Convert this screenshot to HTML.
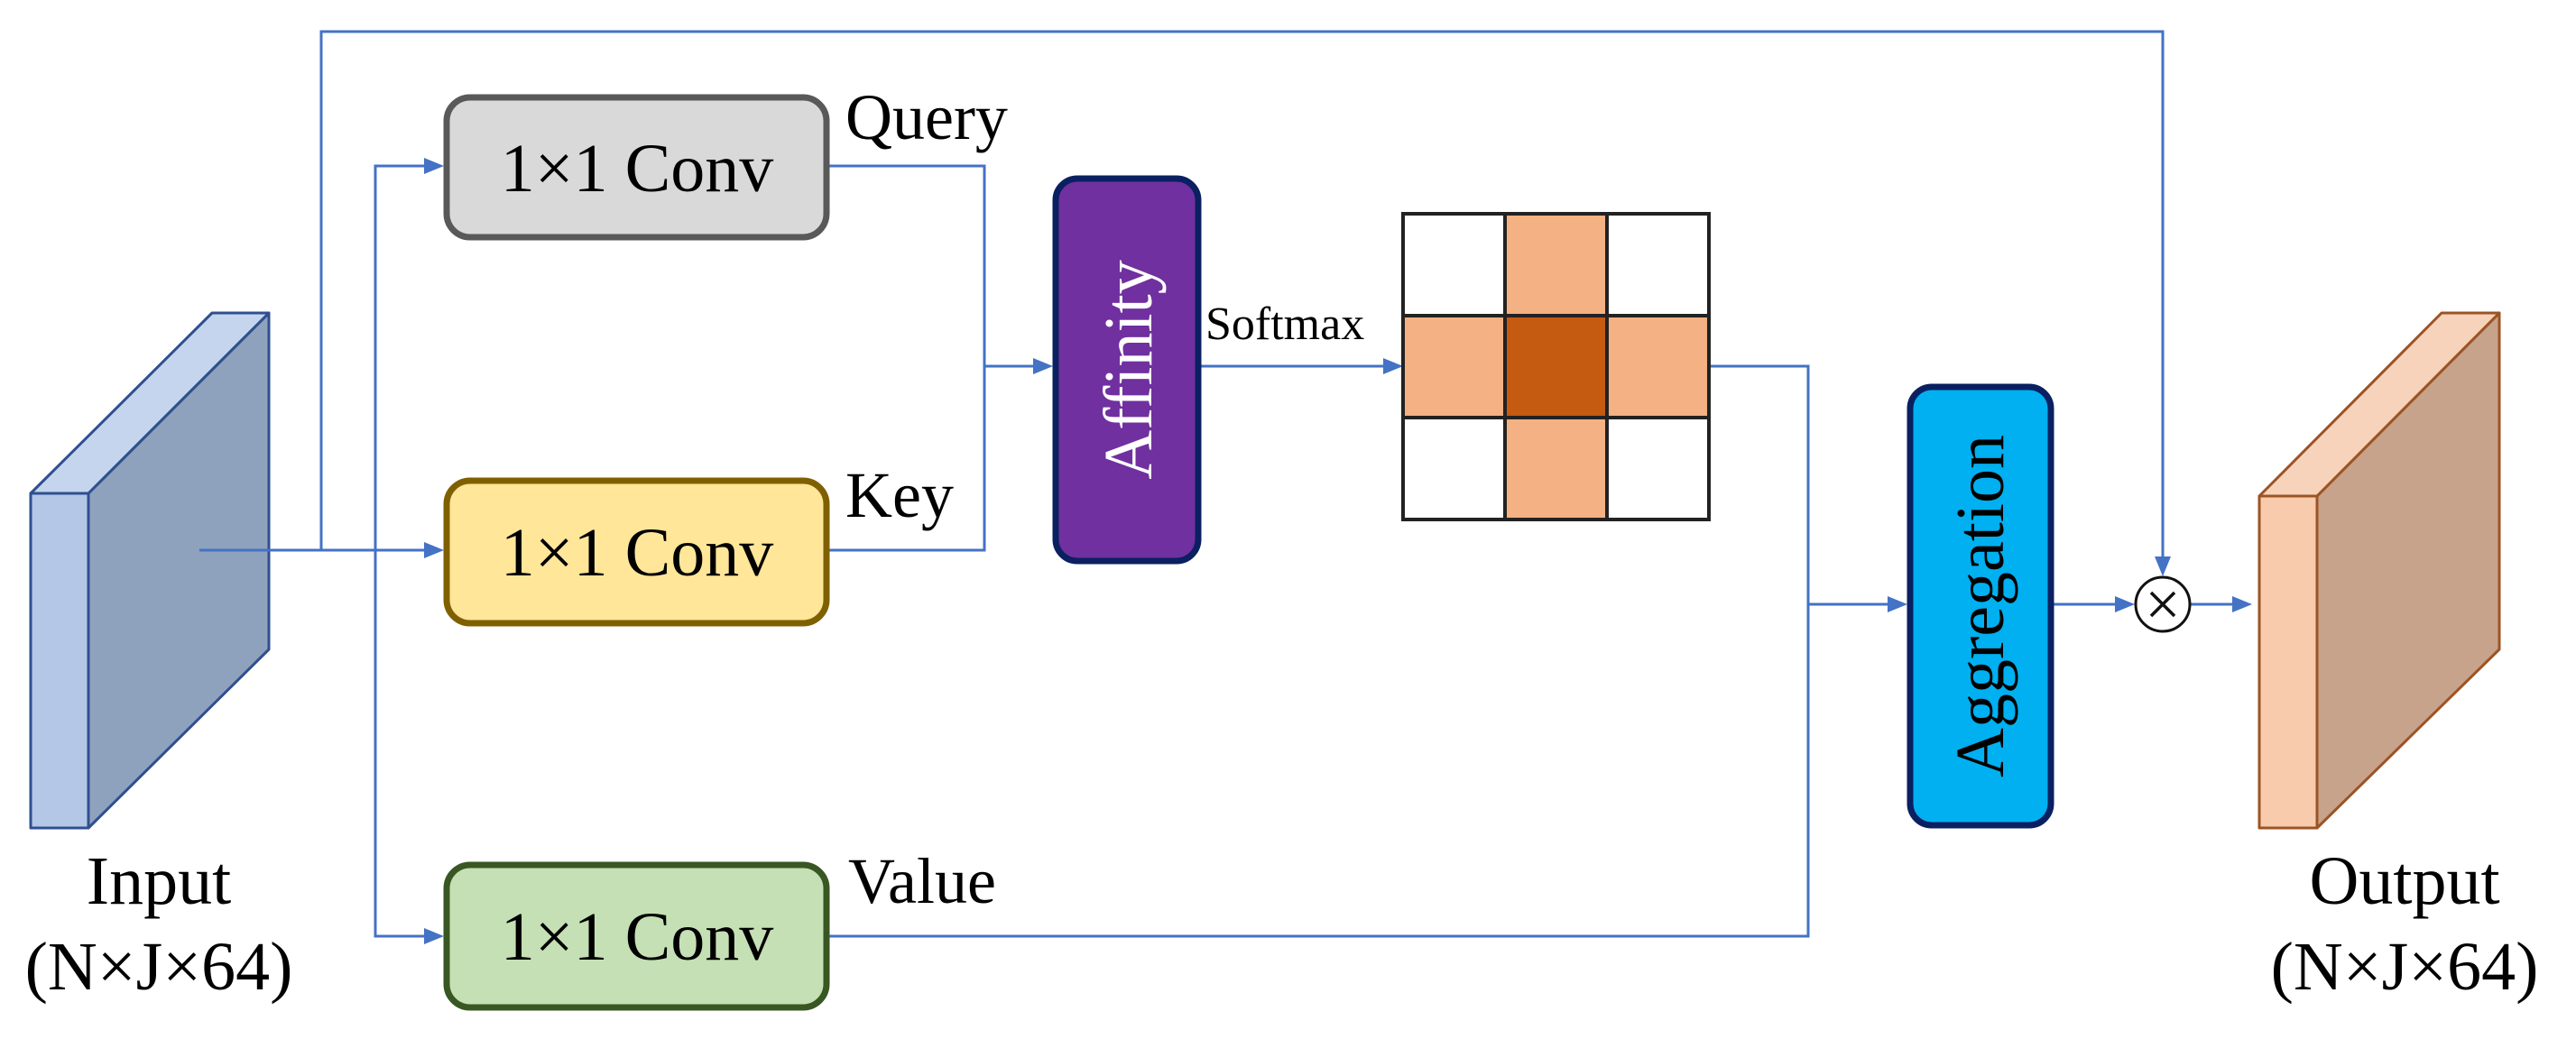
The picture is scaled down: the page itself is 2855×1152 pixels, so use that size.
<!DOCTYPE html>
<html><head><meta charset="utf-8"><style>
html,body{margin:0;padding:0;background:#fff}
svg{display:block}
svg text{font-family:"Liberation Serif","Times New Roman",serif !important}
</style></head><body>
<svg width="2855" height="1152" viewBox="0 0 2855 1152" xmlns="http://www.w3.org/2000/svg" font-family="Liberation Serif, serif">
<!-- input slab -->
<g stroke="#2f4f8f" stroke-width="3" stroke-linejoin="round">
<polygon points="98,547 298,347 298,720 98,918" fill="#8fa2bd"/>
<polygon points="34,547 235,347 298,347 98,547" fill="#c5d5ee"/>
<rect x="34" y="547" width="64" height="371" fill="#b4c7e7"/>
</g>
<!-- output slab -->
<g stroke="#9c5424" stroke-width="3" stroke-linejoin="round">
<polygon points="2568,550 2770,347 2770,720 2568,918" fill="#c8a38b"/>
<polygon points="2504,550 2706,347 2770,347 2568,550" fill="#f8d3bb"/>
<rect x="2504" y="550" width="64" height="368" fill="#f8cbad"/>
</g>
<g fill="none" stroke="#4472c4" stroke-width="3">
<polyline points="356,610 356,35 2397,35 2397,625"/>
<line x1="221" y1="610" x2="472" y2="610"/>
<polyline points="472,184 416,184 416,1038 472,1038"/>
<polyline points="919,184 1091,184 1091,610 919,610"/>
<line x1="1091" y1="406" x2="1147" y2="406"/>
<line x1="1331" y1="406" x2="1535" y2="406"/>
<polyline points="1893,406 2004,406 2004,1038 919,1038"/>
<line x1="2004" y1="670" x2="2094" y2="670"/>
<line x1="2276" y1="670" x2="2346" y2="670"/>
<line x1="2428" y1="670" x2="2476" y2="670"/>
</g>
<g fill="#4472c4">
<polygon points="492,184 470,175 470,193"/>
<polygon points="492,610 470,601 470,619"/>
<polygon points="492,1038 470,1029 470,1047"/>
<polygon points="1167,406 1145,397 1145,415"/>
<polygon points="1555,406 1533,397 1533,415"/>
<polygon points="2114,670 2092,661 2092,679"/>
<polygon points="2366,670 2344,661 2344,679"/>
<polygon points="2496,670 2474,661 2474,679"/>
<polygon points="2397,639 2388,617 2406,617"/>
</g>
<!-- conv boxes -->
<rect x="495" y="108" width="421" height="155" rx="26" fill="#d9d9d9" stroke="#595959" stroke-width="7"/>
<rect x="495" y="533" width="421" height="158" rx="26" fill="#ffe699" stroke="#7f6000" stroke-width="7"/>
<rect x="495" y="959" width="421" height="158" rx="26" fill="#c5e0b4" stroke="#385723" stroke-width="7"/>
<g font-size="76" text-anchor="middle" fill="#000">
<text x="706" y="212">1×1 Conv</text>
<text x="706" y="638">1×1 Conv</text>
<text x="706" y="1064">1×1 Conv</text>
</g>
<g font-size="72" fill="#000">
<text x="937" y="154">Query</text>
<text x="937" y="573">Key</text>
<text x="940" y="1001">Value</text>
</g>
<!-- affinity -->
<rect x="1170" y="198" width="158" height="424" rx="24" fill="#7030a0" stroke="#0a2060" stroke-width="7"/>
<text transform="translate(1276,410) rotate(-90)" font-size="76" text-anchor="middle" fill="#fff">Affinity</text>
<text x="1336" y="376" font-size="52" fill="#000">Softmax</text>
<!-- grid -->
<g stroke="#222" stroke-width="4">
<rect x="1555" y="237" width="113" height="113" fill="#fff"/>
<rect x="1668" y="237" width="113" height="113" fill="#f4b183"/>
<rect x="1781" y="237" width="113" height="113" fill="#fff"/>
<rect x="1555" y="350" width="113" height="113" fill="#f4b183"/>
<rect x="1668" y="350" width="113" height="113" fill="#c55a11"/>
<rect x="1781" y="350" width="113" height="113" fill="#f4b183"/>
<rect x="1555" y="463" width="113" height="113" fill="#fff"/>
<rect x="1668" y="463" width="113" height="113" fill="#f4b183"/>
<rect x="1781" y="463" width="113" height="113" fill="#fff"/>
</g>
<!-- aggregation -->
<rect x="2117" y="429" width="156" height="486" rx="24" fill="#00b0f0" stroke="#0a2060" stroke-width="7"/>
<text transform="translate(2220,672) rotate(-90)" font-size="76" text-anchor="middle" fill="#000">Aggregation</text>
<!-- multiply -->
<circle cx="2397" cy="670" r="30" fill="#fff" stroke="#111" stroke-width="3"/>
<g stroke="#111" stroke-width="3.5"><line x1="2384" y1="657" x2="2410" y2="683"/><line x1="2410" y1="657" x2="2384" y2="683"/></g>
<!-- labels -->
<g font-size="76" text-anchor="middle" fill="#000">
<text x="176" y="1002">Input</text>
<text x="176" y="1097">(N×J×64)</text>
<text x="2665" y="1002">Output</text>
<text x="2665" y="1097">(N×J×64)</text>
</g>
</svg>
</body></html>
